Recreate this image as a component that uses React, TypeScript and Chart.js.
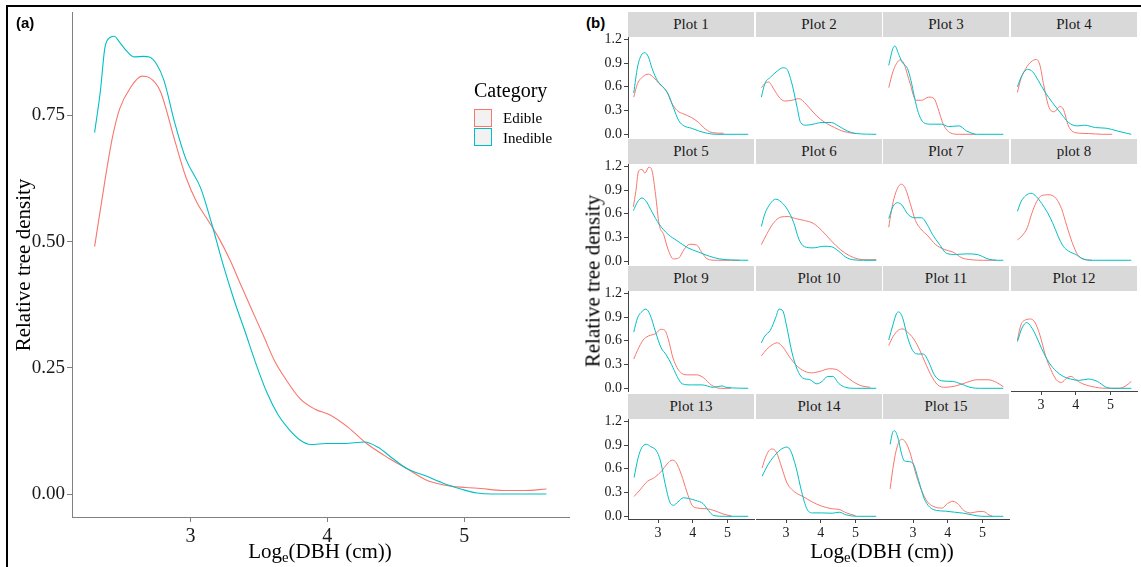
import React, { useEffect, useRef } from 'react';
import { Chart, registerables } from 'chart.js';
Chart.register(...registerables);

type Pt = [number, number];

const EDIBLE_COLOR = '#F8766D';
const INEDIBLE_COLOR = '#00BFC4';
const seriesNames = ['Edible', 'Inedible'];

// ---- Panel (a): all plots combined ----
const aEdible: Pt[] = [[2.30,0.49],[2.375,0.62],[2.43,0.706],[2.483,0.763],[2.564,0.806],[2.645,0.828],[2.70,0.825],[2.78,0.798],[2.887,0.699],[2.968,0.627],[3.048,0.577],[3.129,0.542],[3.21,0.506],[3.29,0.463],[3.37,0.413],[3.45,0.364],[3.533,0.314],[3.614,0.264],[3.695,0.228],[3.80,0.189],[3.91,0.168],[4.017,0.157],[4.152,0.132],[4.287,0.100],[4.448,0.071],[4.583,0.050],[4.717,0.0285],[4.85,0.018],[5.01,0.013],[5.12,0.011],[5.28,0.007],[5.44,0.007],[5.60,0.010]];
const aInedible: Pt[] = [[2.30,0.716],[2.343,0.80],[2.375,0.884],[2.416,0.905],[2.443,0.907],[2.483,0.895],[2.537,0.877],[2.59,0.866],[2.658,0.867],[2.70,0.866],[2.752,0.852],[2.806,0.820],[2.887,0.734],[2.968,0.663],[3.075,0.606],[3.156,0.535],[3.237,0.456],[3.318,0.385],[3.40,0.321],[3.48,0.257],[3.56,0.20],[3.64,0.157],[3.72,0.128],[3.80,0.107],[3.88,0.098],[3.99,0.100],[4.125,0.100],[4.273,0.103],[4.367,0.093],[4.475,0.071],[4.583,0.050],[4.717,0.036],[4.85,0.021],[4.987,0.009],[5.094,0.002],[5.20,0],[5.60,0]];
const aXTicks = [3, 4, 5];
const aYTicks = [0, 0.25, 0.5, 0.75];

// ---- Panel (b): per plot ----
const plotNames = ['Plot 1','Plot 2','Plot 3','Plot 4','Plot 5','Plot 6','Plot 7','plot 8','Plot 9','Plot 10','Plot 11','Plot 12','Plot 13','Plot 14','Plot 15'];
const bXTicks = [3, 4, 5];
const bYTicks = [0, 0.3, 0.6, 0.9, 1.2];

const p1E: Pt[] = [[2.30,0.47],[2.41,0.64],[2.57,0.73],[2.72,0.76],[2.88,0.715],[3.03,0.64],[3.24,0.55],[3.39,0.40],[3.55,0.30],[3.75,0.255],[3.96,0.213],[4.17,0.149],[4.37,0.064],[4.58,0.02],[4.89,0.013]];
const p1I: Pt[] = [[2.30,0.52],[2.41,0.85],[2.52,1.0],[2.62,1.03],[2.72,0.98],[2.83,0.83],[2.98,0.68],[3.135,0.60],[3.29,0.51],[3.44,0.34],[3.60,0.17],[3.75,0.106],[3.96,0.077],[4.17,0.043],[4.42,0.013],[4.68,0],[5.60,0]];
const p2E: Pt[] = [[2.29,0.59],[2.39,0.64],[2.50,0.66],[2.65,0.57],[2.80,0.47],[2.96,0.42],[3.17,0.43],[3.37,0.45],[3.58,0.38],[3.78,0.28],[3.99,0.19],[4.20,0.13],[4.40,0.085],[4.61,0.043],[4.92,0.013],[5.02,0.01]];
const p2I: Pt[] = [[2.29,0.47],[2.39,0.64],[2.55,0.72],[2.75,0.80],[2.91,0.84],[3.01,0.83],[3.17,0.64],[3.32,0.34],[3.42,0.15],[3.58,0.115],[3.78,0.128],[4.04,0.149],[4.30,0.149],[4.51,0.106],[4.76,0.043],[5.02,0.01],[5.60,0]];
const p3E: Pt[] = [[2.30,0.59],[2.42,0.79],[2.52,0.89],[2.63,0.94],[2.73,0.90],[2.89,0.68],[3.09,0.43],[3.25,0.43],[3.45,0.47],[3.61,0.45],[3.71,0.34],[3.87,0.128],[4.07,0.02],[4.33,0],[4.80,0]];
const p3I: Pt[] = [[2.30,0.87],[2.42,1.085],[2.48,1.115],[2.58,1.02],[2.68,0.915],[2.84,0.83],[2.94,0.68],[3.04,0.47],[3.15,0.277],[3.30,0.15],[3.51,0.128],[3.82,0.128],[4.02,0.098],[4.33,0.106],[4.54,0.043],[4.85,0],[5.60,0]];
const p4E: Pt[] = [[2.32,0.53],[2.42,0.70],[2.56,0.83],[2.71,0.915],[2.87,0.945],[2.97,0.87],[3.07,0.64],[3.23,0.34],[3.38,0.285],[3.54,0.35],[3.64,0.32],[3.79,0.106],[4.0,0.02],[4.36,0.01],[4.77,0],[5.05,0]];
const p4I: Pt[] = [[2.32,0.60],[2.45,0.745],[2.61,0.82],[2.76,0.79],[2.92,0.68],[3.12,0.53],[3.33,0.40],[3.59,0.255],[3.79,0.15],[4.05,0.106],[4.26,0.115],[4.57,0.085],[4.88,0.077],[5.19,0.043],[5.5,0.01],[5.6,0]];
const p5E: Pt[] = [[2.29,0.69],[2.36,0.88],[2.44,1.14],[2.54,1.16],[2.62,1.115],[2.74,1.19],[2.83,1.14],[2.93,0.84],[3.03,0.47],[3.16,0.34],[3.29,0.15],[3.44,0.03],[3.60,0.043],[3.75,0.15],[3.91,0.215],[4.11,0.206],[4.27,0.107],[4.42,0.03],[4.68,0.013],[5.09,0.013],[5.35,0.013]];
const p5I: Pt[] = [[2.29,0.64],[2.41,0.75],[2.54,0.80],[2.67,0.75],[2.83,0.62],[3.03,0.47],[3.29,0.34],[3.55,0.26],[3.86,0.17],[4.17,0.116],[4.48,0.064],[4.78,0.03],[5.09,0.017],[5.60,0.013]];
const p6E: Pt[] = [[2.29,0.21],[2.44,0.34],[2.65,0.49],[2.86,0.56],[3.06,0.565],[3.27,0.54],[3.53,0.515],[3.78,0.48],[4.04,0.385],[4.30,0.26],[4.56,0.15],[4.82,0.073],[5.07,0.03],[5.33,0.02],[5.60,0.02]];
const p6I: Pt[] = [[2.29,0.44],[2.39,0.60],[2.55,0.73],[2.70,0.785],[2.86,0.75],[3.06,0.64],[3.22,0.49],[3.37,0.28],[3.53,0.185],[3.78,0.17],[4.09,0.19],[4.30,0.185],[4.51,0.13],[4.71,0.056],[4.92,0.02],[5.23,0.013],[5.60,0.013]];
const p7E: Pt[] = [[2.30,0.43],[2.37,0.62],[2.45,0.79],[2.55,0.92],[2.66,0.975],[2.78,0.92],[2.92,0.73],[3.07,0.515],[3.22,0.41],[3.43,0.32],[3.64,0.215],[3.90,0.15],[4.15,0.116],[4.41,0.043],[4.67,0.02],[5.03,0.013],[5.39,0.013]];
const p7I: Pt[] = [[2.30,0.54],[2.42,0.69],[2.55,0.74],[2.68,0.71],[2.84,0.60],[3.04,0.55],[3.25,0.55],[3.40,0.47],[3.56,0.34],[3.76,0.215],[3.97,0.10],[4.23,0.086],[4.54,0.094],[4.85,0.086],[5.16,0.03],[5.42,0.013],[5.60,0.013]];
const p8E: Pt[] = [[2.32,0.27],[2.45,0.32],[2.61,0.43],[2.73,0.60],[2.87,0.75],[3.02,0.83],[3.23,0.84],[3.44,0.79],[3.59,0.665],[3.74,0.45],[3.90,0.236],[4.05,0.086],[4.21,0.03],[4.47,0.013]];
const p8I: Pt[] = [[2.32,0.63],[2.42,0.75],[2.56,0.83],[2.71,0.86],[2.87,0.815],[3.02,0.73],[3.18,0.62],[3.33,0.49],[3.49,0.32],[3.64,0.19],[3.79,0.13],[4.0,0.086],[4.21,0.03],[4.47,0.013],[5.60,0.013]];
const p9E: Pt[] = [[2.30,0.37],[2.41,0.48],[2.57,0.61],[2.72,0.66],[2.93,0.69],[3.08,0.745],[3.19,0.735],[3.29,0.63],[3.44,0.37],[3.65,0.20],[3.86,0.17],[4.12,0.17],[4.32,0.13],[4.53,0.043],[4.79,0],[5.1,0]];
const p9I: Pt[] = [[2.30,0.71],[2.41,0.89],[2.54,0.97],[2.65,1.0],[2.77,0.93],[2.93,0.71],[3.08,0.52],[3.24,0.42],[3.39,0.30],[3.55,0.15],[3.70,0.056],[3.96,0.043],[4.27,0.043],[4.58,0.013],[4.84,0.03],[4.99,0.01],[5.60,0]];
const p10E: Pt[] = [[2.29,0.41],[2.44,0.49],[2.60,0.55],[2.75,0.575],[2.91,0.52],[3.11,0.39],[3.32,0.28],[3.53,0.216],[3.73,0.195],[3.99,0.216],[4.25,0.247],[4.45,0.238],[4.66,0.173],[4.92,0.087],[5.18,0.03],[5.43,0.013]];
const p10I: Pt[] = [[2.29,0.575],[2.39,0.66],[2.55,0.735],[2.70,0.89],[2.80,1.0],[2.91,0.975],[3.01,0.80],[3.17,0.455],[3.32,0.24],[3.48,0.13],[3.68,0.11],[3.89,0.056],[4.04,0.087],[4.20,0.15],[4.35,0.15],[4.51,0.065],[4.71,0.013],[5.02,0],[5.60,0]];
const p11E: Pt[] = [[2.30,0.54],[2.42,0.65],[2.58,0.735],[2.71,0.75],[2.89,0.69],[3.04,0.61],[3.20,0.476],[3.35,0.325],[3.51,0.173],[3.71,0.043],[3.92,0.013],[4.23,0.03],[4.54,0.074],[4.85,0.108],[5.16,0.108],[5.41,0.074],[5.60,0.02]];
const p11I: Pt[] = [[2.30,0.61],[2.42,0.80],[2.52,0.94],[2.59,0.965],[2.70,0.89],[2.84,0.65],[2.99,0.476],[3.15,0.433],[3.30,0.433],[3.46,0.325],[3.61,0.173],[3.82,0.095],[4.13,0.087],[4.38,0.056],[4.64,0.013],[4.95,0],[5.60,0]];
const p12E: Pt[] = [[2.32,0.61],[2.42,0.80],[2.56,0.865],[2.70,0.875],[2.82,0.835],[2.97,0.67],[3.13,0.41],[3.28,0.24],[3.44,0.108],[3.59,0.074],[3.74,0.13],[3.87,0.15],[4.0,0.108],[4.16,0.065],[4.47,0.022],[4.88,0],[5.24,0],[5.44,0.03],[5.60,0.087]];
const p12I: Pt[] = [[2.32,0.59],[2.45,0.76],[2.59,0.83],[2.71,0.78],[2.87,0.65],[3.02,0.50],[3.23,0.325],[3.44,0.216],[3.64,0.15],[3.85,0.117],[4.10,0.10],[4.36,0.117],[4.62,0.087],[4.88,0.013],[5.08,0],[5.60,0]];
const p13E: Pt[] = [[2.31,0.25],[2.48,0.333],[2.69,0.44],[2.90,0.49],[3.10,0.57],[3.26,0.66],[3.41,0.71],[3.52,0.68],[3.67,0.53],[3.83,0.31],[3.98,0.14],[4.14,0.104],[4.40,0.095],[4.61,0.074],[4.87,0.03],[5.12,0.004]];
const p13I: Pt[] = [[2.31,0.49],[2.43,0.745],[2.53,0.866],[2.66,0.91],[2.79,0.88],[2.95,0.83],[3.07,0.70],[3.21,0.40],[3.34,0.18],[3.45,0.14],[3.57,0.18],[3.73,0.234],[3.88,0.225],[4.09,0.20],[4.30,0.16],[4.45,0.074],[4.61,0.009],[4.92,0],[5.60,0]];
const p14E: Pt[] = [[2.31,0.61],[2.41,0.745],[2.51,0.83],[2.60,0.85],[2.72,0.81],[2.88,0.61],[3.03,0.42],[3.24,0.31],[3.50,0.247],[3.76,0.18],[4.02,0.13],[4.33,0.095],[4.53,0.087],[4.74,0.043],[5.0,0.009]];
const p14I: Pt[] = [[2.31,0.506],[2.46,0.636],[2.67,0.766],[2.88,0.853],[3.03,0.874],[3.13,0.83],[3.29,0.615],[3.45,0.31],[3.60,0.095],[3.76,0.043],[4.02,0.043],[4.33,0.039],[4.53,0.052],[4.74,0.017],[5.05,0],[5.60,0]];
const p15E: Pt[] = [[2.34,0.346],[2.44,0.66],[2.54,0.874],[2.67,0.974],[2.78,0.94],[2.91,0.81],[3.06,0.57],[3.22,0.355],[3.42,0.18],[3.63,0.117],[3.84,0.104],[3.99,0.16],[4.15,0.19],[4.31,0.15],[4.46,0.074],[4.67,0.043],[4.88,0.06],[5.03,0.06],[5.19,0.017],[5.29,0]];
const p15I: Pt[] = [[2.34,0.91],[2.41,1.056],[2.47,1.08],[2.56,1.0],[2.67,0.79],[2.75,0.70],[2.89,0.69],[3.01,0.66],[3.17,0.44],[3.32,0.225],[3.48,0.117],[3.68,0.074],[3.94,0.065],[4.20,0.052],[4.46,0.039],[4.72,0.017],[4.98,0],[5.60,0]];

const plotEdible: Pt[][] = [p1E,p2E,p3E,p4E,p5E,p6E,p7E,p8E,p9E,p10E,p11E,p12E,p13E,p14E,p15E];
const plotInedible: Pt[][] = [p1I,p2I,p3I,p4I,p5I,p6I,p7I,p8I,p9I,p10I,p11I,p12I,p13I,p14I,p15I];

const SERIF = '"Liberation Serif", "Times New Roman", serif';
const SANS = '"Liberation Sans", Arial, sans-serif';

type PanelProps = {
  box: { left: number; top: number; width: number; height: number };
  pad: { l: number; t: number; r: number; b: number };
  xr: [number, number];
  yr: [number, number];
  xTicks: number[];
  yTicks: number[];
  showX: boolean;
  showY: boolean;
  edible: Pt[];
  inedible: Pt[];
  axisColor: string;
  xFont: number;
  yFont: number;
  tickLen: number;
  xPad: number;
  yPad: number;
  yDecimals: number;
  lineWidth: number;
};

function ChartPanel(p: PanelProps) {
  const ref = useRef<HTMLCanvasElement>(null);
  const W = p.box.width + p.pad.l + p.pad.r;
  const H = p.box.height + p.pad.t + p.pad.b;
  useEffect(() => {
    const mk = (pts: Pt[]) => pts.map(([x, y]) => ({ x, y }));
    const chart = new Chart(ref.current!, {
      type: 'line',
      data: {
        datasets: [
          { label: seriesNames[0], data: mk(p.edible), borderColor: EDIBLE_COLOR, borderWidth: p.lineWidth, pointRadius: 0, fill: false, cubicInterpolationMode: 'monotone', order: 2 },
          { label: seriesNames[1], data: mk(p.inedible), borderColor: INEDIBLE_COLOR, borderWidth: p.lineWidth, pointRadius: 0, fill: false, cubicInterpolationMode: 'monotone', order: 1 },
        ],
      },
      options: {
        responsive: false,
        animation: false,
        events: [],
        layout: { autoPadding: false, padding: { left: 0, top: p.pad.t, right: p.pad.r, bottom: 0 } },
        plugins: { legend: { display: false }, tooltip: { enabled: false }, title: { display: false } },
        scales: {
          x: {
            type: 'linear',
            position: 'bottom',
            min: p.xr[0],
            max: p.xr[1],
            afterBuildTicks: (s: any) => { s.ticks = p.xTicks.map((v) => ({ value: v })); },
            afterFit: (s: any) => { s.height = p.pad.b; },
            grid: { display: p.showX, drawOnChartArea: false, drawTicks: p.showX, tickLength: p.tickLen, color: p.axisColor, tickColor: p.axisColor },
            border: { display: p.showX, color: p.axisColor, width: 1 },
            ticks: { display: p.showX, autoSkip: false, maxRotation: 0, padding: p.xPad, color: '#1a1a1a', font: { family: SERIF, size: p.xFont }, callback: (v: any) => String(v) },
          },
          y: {
            type: 'linear',
            position: 'left',
            min: p.yr[0],
            max: p.yr[1],
            afterBuildTicks: (s: any) => { s.ticks = p.yTicks.map((v) => ({ value: v })); },
            afterFit: (s: any) => { s.width = p.pad.l; },
            grid: { display: p.showY, drawOnChartArea: false, drawTicks: p.showY, tickLength: p.tickLen, color: p.axisColor, tickColor: p.axisColor },
            border: { display: p.showY, color: p.axisColor, width: 1 },
            ticks: { display: p.showY, autoSkip: false, padding: p.yPad, color: '#1a1a1a', font: { family: SERIF, size: p.yFont }, callback: (v: any) => Number(v).toFixed(p.yDecimals) },
          },
        },
      } as any,
    });
    return () => chart.destroy();
  }, []);
  return (
    <canvas
      ref={ref}
      width={W}
      height={H}
      style={{ position: 'absolute', left: p.box.left - p.pad.l, top: p.box.top - p.pad.t, width: W, height: H }}
    />
  );
}

const Txt = (props: { x: number; y: number; size: number; children: any; rotate?: boolean; align?: 'left' | 'center'; bold?: boolean; family?: string }) => (
  <div
    style={{
      position: 'absolute',
      left: props.x,
      top: props.y,
      fontFamily: props.family || SERIF,
      fontSize: props.size,
      fontWeight: props.bold ? 'bold' : 'normal',
      lineHeight: 1,
      whiteSpace: 'nowrap',
      color: '#000',
      transform: props.rotate
        ? 'translate(-50%, -50%) rotate(-90deg)'
        : props.align === 'left'
        ? 'translate(0, -50%)'
        : 'translate(-50%, -50%)',
    }}
  >
    {props.children}
  </div>
);

const XTitle = () => (
  <span>
    Log<sub style={{ fontSize: '0.7em', verticalAlign: '-0.3em', lineHeight: 0 }}>e</sub>(DBH (cm))
  </span>
);

const colLeft = [628, 756, 883, 1011];
const rowTop = [37, 164, 291, 419];

export default function App() {
  return (
    <div style={{ position: 'absolute', left: 0, top: 0, width: 1141, height: 567, overflow: 'hidden', background: '#fff' }}>
      <div style={{ position: 'absolute', left: 6, top: 5, width: 1200, height: 700, borderLeft: '2px solid #000', borderTop: '2px solid #000' }} />

      {/* Panel (a) */}
      <ChartPanel
        box={{ left: 72, top: 12, width: 497, height: 505 }}
        pad={{ l: 72, t: 20, r: 11, b: 50 }}
        xr={[2.135, 5.765]}
        yr={[-0.0455, 0.955]}
        xTicks={aXTicks}
        yTicks={aYTicks}
        showX={true}
        showY={true}
        edible={aEdible}
        inedible={aInedible}
        axisColor="#808080"
        xFont={20}
        yFont={19}
        tickLen={5}
        xPad={3}
        yPad={2}
        yDecimals={2}
        lineWidth={1.1}
      />
      <Txt x={16} y={21.5} size={15} bold family={SANS} align="left">(a)</Txt>
      <Txt x={23} y={265} size={21} rotate>Relative tree density</Txt>
      <Txt x={320} y={551} size={21}><XTitle /></Txt>
      {/* legend */}
      <Txt x={474} y={89.5} size={20} align="left">Category</Txt>
      <div style={{ position: 'absolute', left: 474, top: 108.5, width: 18, height: 18, boxSizing: 'border-box', border: `1.5px solid ${EDIBLE_COLOR}`, background: '#f2f2f2' }} />
      <div style={{ position: 'absolute', left: 474, top: 128.3, width: 18, height: 18, boxSizing: 'border-box', border: `1.5px solid ${INEDIBLE_COLOR}`, background: '#f2f2f2' }} />
      <Txt x={503} y={118} size={15} align="left">{seriesNames[0]}</Txt>
      <Txt x={503} y={138} size={15} align="left">{seriesNames[1]}</Txt>

      {/* Panel (b) */}
      <Txt x={586} y={21.5} size={15} bold family={SANS} align="left">(b)</Txt>
      {plotNames.map((name, i) => {
        const r = Math.floor(i / 4);
        const c = i % 4;
        return (
          <div key={'s' + i} style={{ position: 'absolute', left: colLeft[c], top: rowTop[r] - 25, width: 126, height: 25, background: '#d9d9d9', color: '#1a1a1a', fontFamily: SERIF, fontSize: 15, lineHeight: '25px', textAlign: 'center' }}>
            {name}
          </div>
        );
      })}
      {plotNames.map((name, i) => {
        const r = Math.floor(i / 4);
        const c = i % 4;
        const bottom = i >= 11;
        return (
          <ChartPanel
            key={'p' + i}
            box={{ left: colLeft[c], top: rowTop[r], width: 126, height: 100 }}
            pad={{ l: 40, t: 14, r: 2, b: 30 }}
            xr={[2.135, 5.765]}
            yr={[-0.034, 1.229]}
            xTicks={bXTicks}
            yTicks={bYTicks}
            showX={bottom}
            showY={c === 0}
            edible={plotEdible[i]}
            inedible={plotInedible[i]}
            axisColor="#444444"
            xFont={14}
            yFont={14}
            tickLen={4}
            xPad={2}
            yPad={2}
            yDecimals={1}
            lineWidth={1}
          />
        );
      })}
      <Txt x={593} y={281} size={21} rotate>Relative tree density</Txt>
      <Txt x={882} y={551} size={21}><XTitle /></Txt>
    </div>
  );
}
